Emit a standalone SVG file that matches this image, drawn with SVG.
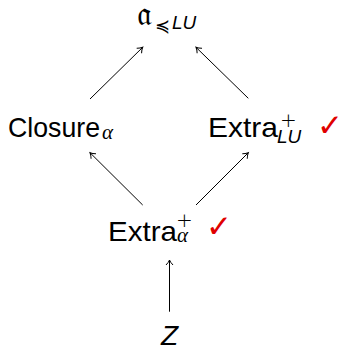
<svg xmlns="http://www.w3.org/2000/svg" width="342" height="349" viewBox="0 0 342 349">
<defs>
<marker id="ah" markerWidth="10" markerHeight="10" refX="8" refY="5" orient="auto" markerUnits="userSpaceOnUse">
<path d="M3,1.5 Q5.5,4 8,5 Q5.5,6 3,8.5" fill="none" stroke="#000" stroke-width="1"/>
</marker>
<style>
.m{font-family:"Liberation Sans",Arial,sans-serif;font-size:28px;fill:#000}
.sub{font-family:"Liberation Serif","Times New Roman",serif;font-style:italic;font-size:21px;fill:#000}
.si{font-family:"Liberation Sans",Arial,sans-serif;font-style:italic;font-size:19px;fill:#000}
.sp{font-family:"DejaVu Sans",sans-serif;font-size:20px;font-weight:300;fill:#000}
.ck{font-family:"DejaVu Sans",sans-serif;font-size:31px;fill:#e00000}
.e{stroke:#000;stroke-width:1;fill:none;marker-end:url(#ah)}
</style>
</defs>
<rect width="342" height="349" fill="#fff"/>
<g id="top">
<text x="137" y="25" style="font-family:'DejaVu Sans','Noto Sans',serif;font-size:34px;fill:#000">𝔞</text>
<text x="155" y="32" style="font-family:'DejaVu Sans',sans-serif;font-size:18px;fill:#000">≼</text>
<text x="172" y="29" class="si">LU</text>
</g>
<g id="closure">
<text x="8" y="137" class="m" textLength="92" lengthAdjust="spacingAndGlyphs">Closure</text>
<text x="102" y="139" class="sub">α</text>
</g>
<g id="extraLU">
<text x="208" y="137" class="m" textLength="70" lengthAdjust="spacingAndGlyphs">Extra</text>
<text x="280" y="127" class="sp">+</text>
<text x="277" y="143" class="si">LU</text>
<text x="317" y="136" class="ck">✓</text>
</g>
<g id="extraAlpha">
<text x="108" y="241" class="m" textLength="69" lengthAdjust="spacingAndGlyphs">Extra</text>
<text x="176" y="227" class="sp">+</text>
<text x="177" y="242" class="sub">α</text>
<text x="206" y="237" class="ck">✓</text>
</g>
<g id="z">
<text x="161" y="345" class="m" style="font-style:italic">Z</text>
</g>
<g id="connectors">
<line x1="90" y1="99" x2="142.7" y2="47.3" class="e"/>
<line x1="248.3" y1="98.3" x2="196" y2="47.3" class="e"/>
<line x1="142.7" y1="205" x2="90" y2="152.7" class="e"/>
<line x1="196" y1="205" x2="248.3" y2="152.7" class="e"/>
<line x1="169.5" y1="311.7" x2="169.5" y2="260" class="e"/>
</g>
</svg>
